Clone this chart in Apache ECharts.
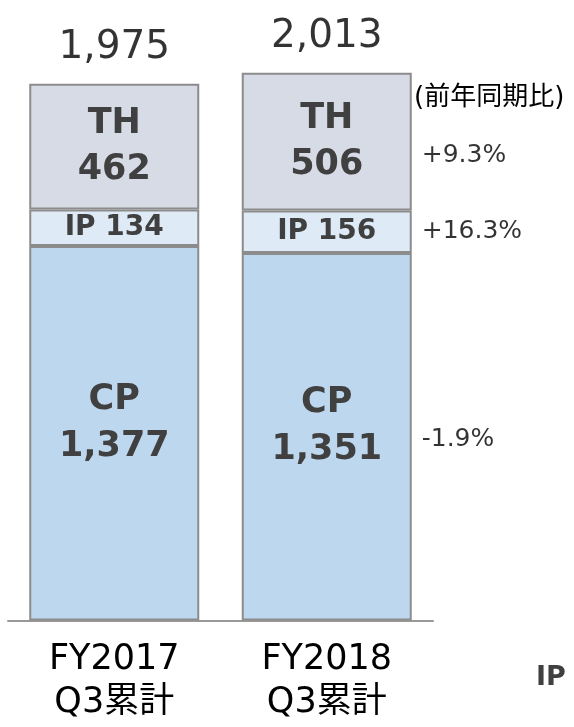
<!DOCTYPE html>
<html>
<head>
<meta charset="utf-8">
<script src="https://cdn.jsdelivr.net/npm/echarts@6/dist/echarts.min.js"></script>
<style>
  html, body { margin: 0; padding: 0; background: #fff; }
  #chart { width: 574px; height: 727px; }
</style>
</head>
<body>
<div id="chart"></div>
<script>
const categories = ['FY2017\nQ3累計', 'FY2018\nQ3累計'];
const cpValues = [1377, 1351];
const ipValues = [134, 156];
const thValues = [462, 506];
const totals = [1975, 2013];
const yoyLabels = ['-1.9%', '+16.3%', '+9.3%']; // CP, IP, TH (FY2018 vs FY2017)

const FONT = "'DejaVu Sans', 'Noto Sans CJK JP', sans-serif";
const fmt = (v) => v.toLocaleString('en-US');

// midpoints of the FY2018 segments, used to anchor the yoy labels
const cpMid = cpValues[1] / 2;
const ipMid = cpValues[1] + ipValues[1] / 2;
const thMid = cpValues[1] + ipValues[1] + thValues[1] / 2;

const barBorder = { borderColor: '#8c8c8c', borderWidth: 2 };

const chart = echarts.init(document.getElementById('chart'), null, { renderer: 'canvas' });

chart.setOption({
  animation: false,
  grid: { left: 8, right: 141, top: 22, bottom: 106.5 },
  xAxis: {
    type: 'category',
    data: categories,
    axisLine: { lineStyle: { color: '#999', width: 2 } },
    axisTick: { show: false },
    axisLabel: {
      color: '#000',
      fontFamily: FONT,
      fontSize: 35,
      lineHeight: 43,
      margin: 18
    }
  },
  yAxis: {
    type: 'value',
    min: 0,
    max: 2200,
    show: false,
    splitLine: { show: false }
  },
  series: [
    {
      name: 'CP',
      type: 'bar',
      stack: 'total',
      barWidth: 170,
      data: cpValues,
      itemStyle: Object.assign({ color: '#bdd7ee' }, barBorder),
      label: {
        show: true,
        position: 'inside',
        offset: [0, -10],
        formatter: (p) => 'CP\n' + fmt(p.value),
        color: '#404040',
        fontFamily: FONT,
        fontWeight: 'bold',
        fontSize: 35,
        lineHeight: 47
      }
    },
    {
      name: 'IP',
      type: 'bar',
      stack: 'total',
      data: ipValues,
      itemStyle: Object.assign({ color: '#deeaf6' }, barBorder),
      label: {
        show: true,
        position: 'inside',
        formatter: (p) => 'IP ' + fmt(p.value),
        color: '#404040',
        fontFamily: FONT,
        fontWeight: 'bold',
        fontSize: 28
      }
    },
    {
      name: 'TH',
      type: 'bar',
      stack: 'total',
      data: thValues,
      itemStyle: Object.assign({ color: '#d6dbe6' }, barBorder),
      label: {
        show: true,
        position: 'inside',
        formatter: (p) => 'TH\n' + fmt(p.value),
        color: '#404040',
        fontFamily: FONT,
        fontWeight: 'bold',
        fontSize: 35,
        lineHeight: 46
      }
    },
    {
      // totals above each bar
      name: 'total',
      type: 'scatter',
      symbolSize: 0,
      data: totals.map((v, i) => [i, v]),
      label: {
        show: true,
        position: 'top',
        distance: 16,
        formatter: (p) => fmt(p.value[1]),
        color: '#000',
        fontFamily: FONT,
        fontSize: 39
      },
      z: 5
    },
    {
      // year-on-year change, right of the FY2018 bar
      name: 'yoy',
      type: 'scatter',
      symbolSize: 0,
      data: [
        { value: [1, cpMid], label: { offset: [0, 3] } },
        { value: [1, ipMid] },
        { value: [1, thMid], label: { offset: [0, 14] } }
      ],
      label: {
        show: true,
        position: 'right',
        distance: 95,
        formatter: (p) => yoyLabels[p.dataIndex],
        color: '#000',
        fontFamily: FONT,
        fontSize: 25
      },
      z: 5
    }
  ],
  graphic: [
    {
      type: 'text',
      left: 414,
      top: 85,
      style: { text: '(前年同期比)', fill: '#000', font: '26px ' + FONT }
    },
    {
      type: 'text',
      left: 536,
      top: 664,
      style: { text: 'IP', fill: '#404040', font: 'bold 27px ' + FONT }
    }
  ]
});
</script>
</body>
</html>
